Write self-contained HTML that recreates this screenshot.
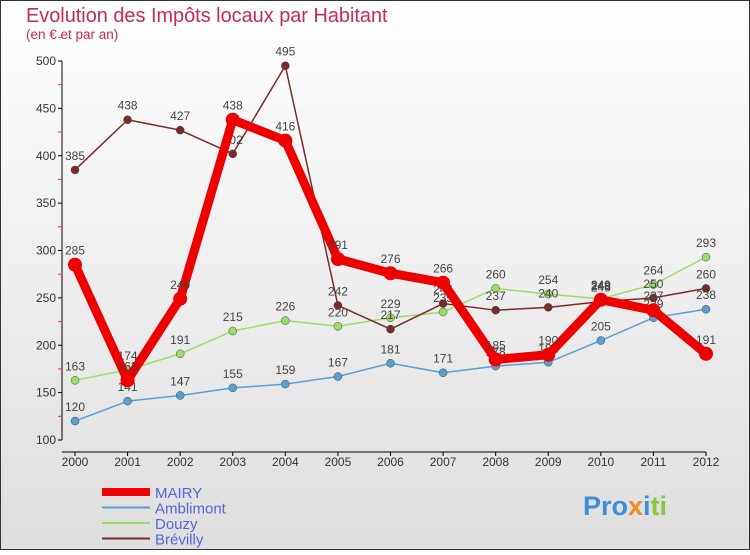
<!DOCTYPE html>
<html><head><meta charset="utf-8"><style>
body{margin:0;width:750px;height:550px;overflow:hidden;font-family:"Liberation Sans",sans-serif}
</style></head><body>
<svg width="750" height="550" xmlns="http://www.w3.org/2000/svg">
<defs><linearGradient id="bg" x1="0" y1="0" x2="0" y2="1"><stop offset="0" stop-color="#ffffff"/><stop offset="1" stop-color="#dedede"/></linearGradient></defs>
<rect x="0.5" y="0.5" width="749" height="549" fill="url(#bg)" stroke="#333"/>
<text x="26" y="22" font-size="19.9" fill="#c8285a">Evolution des Impôts locaux par Habitant</text>
<text x="26" y="39" font-size="13.5" fill="#c8285a">(en € et par an)</text>
<g id="axes"></g><g id="series"></g><g id="legend"></g>
<text x="583" y="515" font-size="27" font-weight="bold"><tspan fill="#3a8fd8">Pro</tspan><tspan fill="#f08a1c">x</tspan><tspan fill="#3a8fd8">i</tspan><tspan fill="#8cc63f">ti</tspan></text>
</svg>
<script>
const years=[2000,2001,2002,2003,2004,2005,2006,2007,2008,2009,2010,2011,2012];
const yTicks=[100,150,200,250,300,350,400,450,500];
const mairy=[285,163,249,438,416,291,276,266,185,190,248,237,191];
const amblimont=[120,141,147,155,159,167,181,171,178,182,205,229,238];
const douzy=[163,174,191,215,226,220,229,235,260,254,249,264,293];
const brevilly=[385,438,427,402,495,242,217,244,237,240,246,250,260];
const NS="http://www.w3.org/2000/svg";
const X=i=>75+i*(706-75)/(years.length-1);
const Y=v=>440-(v-100)*(440-61)/400;
function el(t,a,p){const e=document.createElementNS(NS,t);for(const k in a)e.setAttribute(k,a[k]);p.appendChild(e);return e;}
const ax=document.getElementById('axes');
let l=el('line',{x1:62,y1:61,x2:62,y2:440,stroke:'#000'},ax);


yTicks.forEach(v=>{el('line',{x1:58,y1:Y(v),x2:62,y2:Y(v),stroke:'#000'},ax);
el('line',{x1:58,y1:Y(v+25),x2:62,y2:Y(v+25),stroke:'#e33'},ax);
const t=el('text',{x:56,y:Y(v)+4,'font-size':12,'text-anchor':'end',fill:'#333'},ax);t.textContent=v;

});
l=el('line',{x1:62,y1:452,x2:706,y2:452,stroke:'#000'},ax);


years.forEach((y,i)=>{el('line',{x1:X(i),y1:452,x2:X(i),y2:456,stroke:'#000'},ax);
const t=el('text',{x:X(i),y:466,'font-size':12,'text-anchor':'middle',fill:'#333'},ax);t.textContent=y;

});
const series=[
{name:'Amblimont',d:amblimont,c:'#5a9fd4',w:1.5,r:4},
{name:'Douzy',d:douzy,c:'#99dd66',w:1.5,r:4},
{name:'Brévilly',d:brevilly,c:'#7a2a2a',w:1.5,r:4},
{name:'MAIRY',d:mairy,c:'#ee0000',w:9,r:7}];
const sg=document.getElementById('series');
series.forEach(s=>{const g=el('g',{},sg);


const p=el('polyline',{points:s.d.map((v,i)=>X(i)+','+Y(v)).join(' '),fill:'none',stroke:s.c,'stroke-width':s.w,'stroke-linejoin':'round'},g);


s.d.forEach((v,i)=>{const c=el('circle',{cx:X(i),cy:Y(v),r:s.r,fill:s.c,stroke:s.w>2?'none':'#444','stroke-width':0.5},g);


const t=el('text',{x:X(i),y:Y(v)-10,'font-size':12,'text-anchor':'middle',fill:'#444'},g);t.textContent=v;

});});
const lg=document.getElementById('legend');
const order=[series[3],series[0],series[1],series[2]];
order.forEach((s,i)=>{const y=492+i*15.5;const g=el('g',{},lg);


el('line',{x1:102,y1:y,x2:150,y2:y,stroke:s.c,'stroke-width':s.w>2?8:2},g);
const t=el('text',{x:155,y:y+6,'font-size':15,fill:'#5566dd'},g);t.textContent=s.name;});
</script>
</body></html>
